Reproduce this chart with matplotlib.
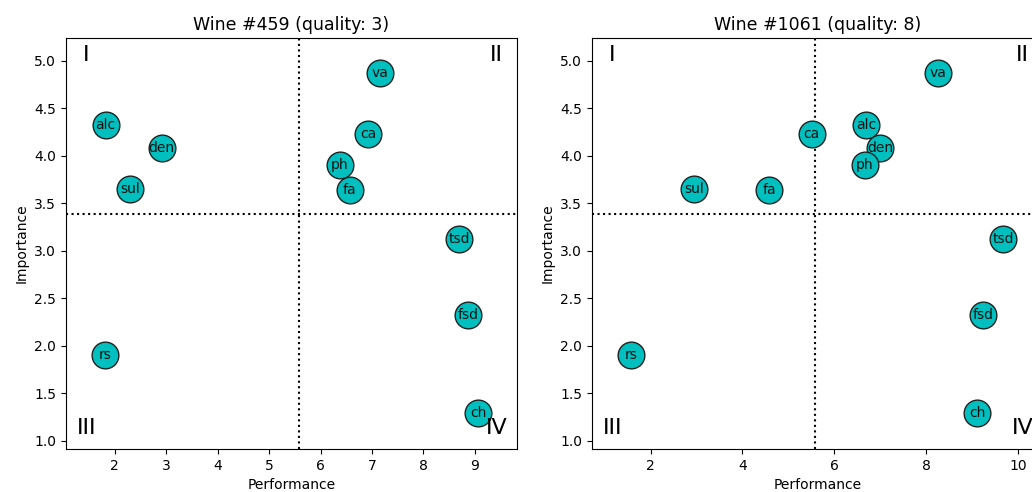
import numpy as np
import matplotlib.pyplot as plt

# ── DATOS ─────────────────────────────────────────────────────────────────────
etiquetas = ['fa', 'va', 'ca', 'rs', 'ch', 'fsd', 'tsd', 'den', 'ph', 'sul', 'alc']
importancia = [3.64, 4.87, 4.23, 1.90, 1.29, 2.33, 3.12, 4.08, 3.90, 3.65, 4.32]

perf_459 = [6.57, 7.16, 6.93, 1.81, 9.07, 8.86, 8.69, 2.91, 6.37, 2.30, 1.82]
perf_1061 = [4.58, 8.27, 5.51, 1.58, 9.12, 9.25, 9.68, 7.00, 6.66, 2.95, 6.69]

titulos = ['Wine #459 (quality: 3)', 'Wine #1061 (quality: 8)']
corte_perf = 5.59
corte_imp = 3.39
cuadrantes = ['I', 'II', 'III', 'IV']

# ── FIGURA ────────────────────────────────────────────────────────────────────
W, H = 1032, 492
fig = plt.figure(figsize=(W / 100, H / 100), dpi=100)

# el panel derecho queda cortado por el borde, como en la imagen original
posiciones = [
    [66 / W, 43 / H, 451 / W, 411 / H],
    [592 / W, 43 / H, 451 / W, 411 / H],
]
limites_x = [(1.05, 9.82), (0.72, 10.55)]

for pos, perf, titulo, xl in zip(posiciones, [perf_459, perf_1061], titulos, limites_x):
    ax = fig.add_axes(pos)
    ax.scatter(perf, importancia, s=370, c='c', edgecolors='#222222', linewidths=1.0, zorder=3)
    for x, y, lab in zip(perf, importancia, etiquetas):
        ax.text(x, y, lab, ha='center', va='center', fontsize=10, color='#111111', zorder=4)

    ax.axvline(corte_perf, color='black', linestyle=':', linewidth=1.5, zorder=1)
    ax.axhline(corte_imp, color='black', linestyle=':', linewidth=1.5, zorder=1)

    kw = dict(transform=ax.transAxes, ha='center', va='center', fontsize=16, zorder=5)
    ax.text(0.045, 0.958, cuadrantes[0], **kw)
    ax.text(0.955, 0.958, cuadrantes[1], **kw)
    ax.text(0.045, 0.05, cuadrantes[2], **kw)
    ax.text(0.955, 0.05, cuadrantes[3], **kw)

    ax.set_xlim(*xl)
    ax.set_ylim(0.915, 5.24)
    ax.set_title(titulo, fontsize=12.5)
    ax.set_xlabel('Performance')
    ax.set_ylabel('Importance')

fig.savefig('out.png', dpi=100)
